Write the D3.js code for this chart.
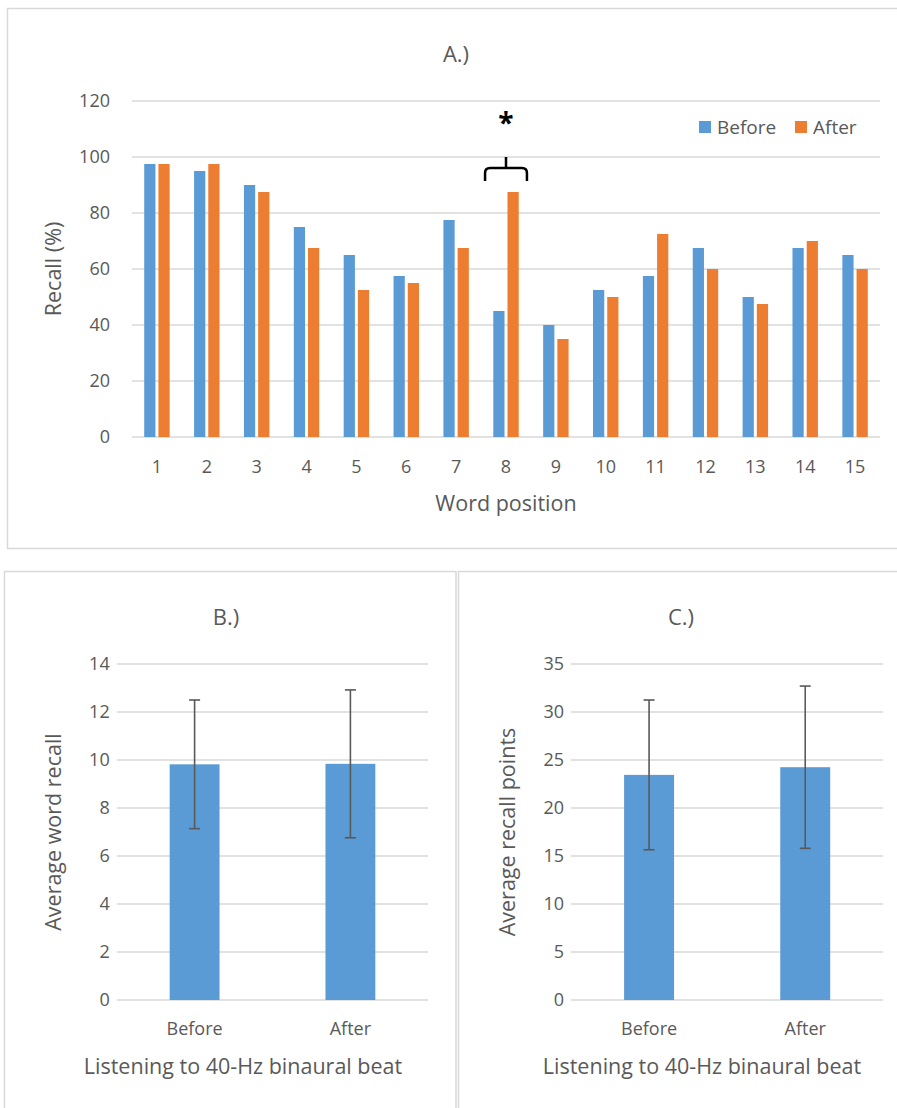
<!DOCTYPE html>
<html>
<head>
<meta charset="utf-8">
<script src="https://cdn.jsdelivr.net/npm/d3@7"></script>
<style>
  body { margin: 0; background: #fff; }
  text { font-family: "Open Sans", "Noto Sans", sans-serif; fill: #595959; }
</style>
</head>
<body>
<div id="app"></div>
<script>
// panel A: recall per word position
var words = [1, 2, 3, 4, 5, 6, 7, 8, 9, 10, 11, 12, 13, 14, 15];
var seriesNames = ["Before", "After"];
var recallBefore = [97.5, 95, 90, 75, 65, 57.5, 77.5, 45, 40, 52.5, 57.5, 67.5, 50, 67.5, 65];
var recallAfter = [97.5, 97.5, 87.5, 67.5, 52.5, 55, 67.5, 87.5, 35, 50, 72.5, 60, 47.5, 70, 60];
var recallTicks = [0, 20, 40, 60, 80, 100, 120];
var starredWord = 8;

// panel B: average word recall
var groups = ["Before", "After"];
var wordRecallMean = [9.82, 9.84];
var wordRecallErr = [2.68, 3.08];
var wordRecallTicks = [0, 2, 4, 6, 8, 10, 12, 14];

// panel C: average recall points
var pointsMean = [23.45, 24.25];
var pointsErr = [7.8, 8.45];
var pointsTicks = [0, 5, 10, 15, 20, 25, 30, 35];

var blue = "#5B9BD5";
var orange = "#ED7D31";
var gridColor = "#D9D9D9";

var tickSize = "18px";
var axisTitleSize = "21.5px";
var headSize = "22px";

var W = 897;
var H = 1108;

var svg = d3.select("#app")
    .append("svg")
    .attr("width", W)
    .attr("height", H);

//PANEL BORDERS
svg.append("rect")
    .attr("x", 7.5).attr("y", 8.5)
    .attr("width", 900).attr("height", 540)
    .style("fill", "none").style("stroke", gridColor).style("stroke-width", 1.5);
svg.append("rect")
    .attr("x", 4.5).attr("y", 571.5)
    .attr("width", 451.5).attr("height", 600)
    .style("fill", "none").style("stroke", gridColor).style("stroke-width", 1.5);
svg.append("rect")
    .attr("x", 458.5).attr("y", 571.5)
    .attr("width", 450).attr("height", 600)
    .style("fill", "none").style("stroke", gridColor).style("stroke-width", 1.5);

//PANEL A
var xA = d3.scaleBand()
    .domain(words)
    .range([132, 880])
    .paddingInner(0.49)
    .paddingOuter(0.245);
var xInner = d3.scaleBand()
    .domain(seriesNames)
    .range([0, xA.bandwidth()])
    .paddingInner(0.21);
var yA = d3.scaleLinear()
    .domain([0, 120])
    .range([437, 101]);

var gA = svg.append("g");

gA.selectAll(".gridA")
    .data(recallTicks)
    .enter()
    .append("line")
    .attr("x1", 132).attr("x2", 880)
    .attr("y1", function (d) { return yA(d); })
    .attr("y2", function (d) { return yA(d); })
    .style("stroke", gridColor)
    .style("stroke-width", 1.5);

gA.selectAll(".ytA")
    .data(recallTicks)
    .enter()
    .append("text")
    .attr("x", 110)
    .attr("y", function (d) { return yA(d); })
    .attr("dy", "0.35em")
    .attr("text-anchor", "end")
    .style("font-size", tickSize)
    .text(function (d) { return d; });

var rows = words.map(function (w, i) {
    return { word: w, values: [
        { key: "Before", value: recallBefore[i] },
        { key: "After", value: recallAfter[i] }
    ] };
});

gA.selectAll(".word")
    .data(rows)
    .enter()
    .append("g")
    .attr("transform", function (d) { return "translate(" + xA(d.word) + ",0)"; })
    .selectAll("rect")
    .data(function (d) { return d.values; })
    .enter()
    .append("rect")
    .attr("x", function (d) { return xInner(d.key); })
    .attr("y", function (d) { return yA(d.value); })
    .attr("width", xInner.bandwidth())
    .attr("height", function (d) { return yA(0) - yA(d.value); })
    .style("fill", function (d) { return d.key === "Before" ? blue : orange; });

gA.selectAll(".xtA")
    .data(words)
    .enter()
    .append("text")
    .attr("x", function (d) { return xA(d) + xA.bandwidth() / 2; })
    .attr("y", 467)
    .attr("dy", "0.35em")
    .attr("text-anchor", "middle")
    .style("font-size", tickSize)
    .text(function (d) { return d; });

gA.append("text")
    .attr("x", 506).attr("y", 503).attr("dy", "0.35em")
    .attr("text-anchor", "middle")
    .style("font-size", axisTitleSize)
    .text("Word position");

gA.append("text")
    .attr("transform", "translate(53,269) rotate(-90)")
    .attr("dy", "0.35em")
    .attr("text-anchor", "middle")
    .style("font-size", axisTitleSize)
    .text("Recall (%)");

gA.append("text")
    .attr("x", 456).attr("y", 54).attr("dy", "0.35em")
    .attr("text-anchor", "middle")
    .style("font-size", headSize)
    .text("A.)");

// legend
var legend = gA.selectAll(".legend")
    .data(seriesNames)
    .enter()
    .append("g")
    .attr("transform", function (d, i) { return "translate(" + (699 + i * 96) + ",121)"; });
legend.append("rect")
    .attr("width", 12).attr("height", 12)
    .style("fill", function (d) { return d === "Before" ? blue : orange; });
legend.append("text")
    .attr("x", 18).attr("y", 6).attr("dy", "0.35em")
    .style("font-size", "19px")
    .text(function (d) { return d; });

// significance bracket over word 8
var cx = xA(starredWord) + xA.bandwidth() / 2;
var half = xA.step() * 0.42;
var bracket = d3.path();
bracket.moveTo(cx - half, 181);
bracket.lineTo(cx - half, 173);
bracket.quadraticCurveTo(cx - half, 168, cx - half + 5, 168);
bracket.lineTo(cx + half - 5, 168);
bracket.quadraticCurveTo(cx + half, 168, cx + half, 173);
bracket.lineTo(cx + half, 181);
bracket.moveTo(cx, 168);
bracket.lineTo(cx, 157);
gA.append("path")
    .attr("d", bracket.toString())
    .style("fill", "none")
    .style("stroke", "#000")
    .style("stroke-width", 2.5);
gA.append("text")
    .attr("x", cx).attr("y", 133)
    .attr("text-anchor", "middle")
    .style("font-size", "28px")
    .style("font-weight", "bold")
    .style("fill", "#000")
    .text("*");

//PANELS B AND C
var drawSmall = function (opts) {
    var x = d3.scaleBand()
        .domain(groups)
        .range([opts.left, opts.right])
        .paddingInner(0.68)
        .paddingOuter(0.34);
    var y = d3.scaleLinear()
        .domain([0, opts.max])
        .range([1000, 664]);
    var g = svg.append("g");

    g.selectAll(".grid")
        .data(opts.ticks)
        .enter()
        .append("line")
        .attr("x1", opts.left).attr("x2", opts.right)
        .attr("y1", function (d) { return y(d); })
        .attr("y2", function (d) { return y(d); })
        .style("stroke", gridColor)
        .style("stroke-width", 1.5);

    g.selectAll(".yt")
        .data(opts.ticks)
        .enter()
        .append("text")
        .attr("x", opts.left - 7)
        .attr("y", function (d) { return y(d); })
        .attr("dy", "0.35em")
        .attr("text-anchor", "end")
        .style("font-size", tickSize)
        .text(function (d) { return d; });

    var data = groups.map(function (k, i) {
        return { key: k, mean: opts.mean[i], err: opts.err[i] };
    });

    g.selectAll(".bar")
        .data(data)
        .enter()
        .append("rect")
        .attr("x", function (d) { return x(d.key); })
        .attr("y", function (d) { return y(d.mean); })
        .attr("width", x.bandwidth())
        .attr("height", function (d) { return y(0) - y(d.mean); })
        .style("fill", blue);

    var eb = g.selectAll(".err")
        .data(data)
        .enter()
        .append("g")
        .style("stroke", "#595959")
        .style("stroke-width", 1.6);
    eb.append("line")
        .attr("x1", function (d) { return x(d.key) + x.bandwidth() / 2; })
        .attr("x2", function (d) { return x(d.key) + x.bandwidth() / 2; })
        .attr("y1", function (d) { return y(d.mean + d.err); })
        .attr("y2", function (d) { return y(d.mean - d.err); });
    eb.selectAll(".cap")
        .data(function (d) { return [d.mean + d.err, d.mean - d.err].map(function (v) { return { key: d.key, v: v }; }); })
        .enter()
        .append("line")
        .attr("x1", function (d) { return x(d.key) + x.bandwidth() / 2 - 5.5; })
        .attr("x2", function (d) { return x(d.key) + x.bandwidth() / 2 + 5.5; })
        .attr("y1", function (d) { return y(d.v); })
        .attr("y2", function (d) { return y(d.v); });

    g.selectAll(".xt")
        .data(groups)
        .enter()
        .append("text")
        .attr("x", function (d) { return x(d) + x.bandwidth() / 2; })
        .attr("y", 1029)
        .attr("dy", "0.35em")
        .attr("text-anchor", "middle")
        .style("font-size", tickSize)
        .text(function (d) { return d; });

    g.append("text")
        .attr("x", opts.titleX).attr("y", 1066).attr("dy", "0.35em")
        .attr("text-anchor", "middle")
        .style("font-size", axisTitleSize)
        .text("Listening to 40-Hz binaural beat");

    g.append("text")
        .attr("transform", "translate(" + opts.yLabelX + ",832) rotate(-90)")
        .attr("dy", "0.35em")
        .attr("text-anchor", "middle")
        .style("font-size", axisTitleSize)
        .text(opts.yLabel);

    g.append("text")
        .attr("x", opts.headX).attr("y", 617).attr("dy", "0.35em")
        .attr("text-anchor", "middle")
        .style("font-size", headSize)
        .text(opts.head);
};

drawSmall({
    left: 116.7, right: 428.3, max: 14, ticks: wordRecallTicks,
    mean: wordRecallMean, err: wordRecallErr,
    titleX: 243, yLabelX: 53, yLabel: "Average word recall",
    headX: 226, head: "B.)"
});
drawSmall({
    left: 571, right: 883.3, max: 35, ticks: pointsTicks,
    mean: pointsMean, err: pointsErr,
    titleX: 702, yLabelX: 507, yLabel: "Average recall points",
    headX: 681, head: "C.)"
});
</script>
</body>
</html>
